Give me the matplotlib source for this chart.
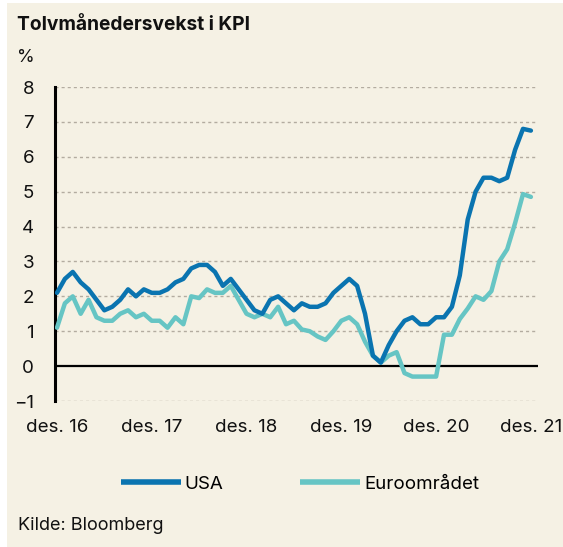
import matplotlib
matplotlib.use("Agg")
import matplotlib.pyplot as plt
from matplotlib.patches import Rectangle
import numpy as np

plt.rcParams["font.family"] = ["Inter", "DejaVu Sans"]

# monthly 12-month CPI growth, des. 2016 - des. 2021
usa = [2.1,
       2.5, 2.7, 2.4, 2.2, 1.9, 1.6, 1.7, 1.9, 2.2, 2.0, 2.2, 2.1,
       2.1, 2.2, 2.4, 2.5, 2.8, 2.9, 2.9, 2.7, 2.3, 2.5, 2.2, 1.9,
       1.6, 1.5, 1.9, 2.0, 1.8, 1.6, 1.8, 1.7, 1.7, 1.8, 2.1, 2.3,
       2.5, 2.3, 1.5, 0.3, 0.1, 0.6, 1.0, 1.3, 1.4, 1.2, 1.2, 1.4,
       1.4, 1.7, 2.6, 4.2, 5.0, 5.4, 5.4, 5.3, 5.4, 6.2, 6.8, 6.75]
euro = [1.1,
        1.8, 2.0, 1.5, 1.9, 1.4, 1.3, 1.3, 1.5, 1.6, 1.4, 1.5, 1.3,
        1.3, 1.1, 1.4, 1.2, 2.0, 1.95, 2.2, 2.1, 2.1, 2.3, 1.9, 1.5,
        1.4, 1.5, 1.4, 1.7, 1.2, 1.3, 1.05, 1.0, 0.85, 0.75, 1.0, 1.3,
        1.4, 1.2, 0.7, 0.3, 0.1, 0.3, 0.4, -0.2, -0.3, -0.3, -0.3, -0.3,
        0.9, 0.9, 1.35, 1.65, 2.0, 1.9, 2.15, 3.0, 3.35, 4.1, 4.93, 4.85]
months = np.arange(len(usa))
tick_pos = [0, 12, 24, 36, 48, 60]
tick_labels = ["des. 16", "des. 17", "des. 18", "des. 19", "des. 20", "des. 21"]
y_ticks = list(range(-1, 9))

CREAM = "#F5F1E4"
BLUE = "#0A74B0"
TEAL = "#66C5C4"
INK = "#111111"

fig = plt.figure(figsize=(5.63, 5.47), dpi=100, facecolor="white")
fig.patches.append(Rectangle((7 / 563, 0), 1, 1 - 3 / 547, transform=fig.transFigure,
                             facecolor=CREAM, edgecolor="none", zorder=-10))

ax = fig.add_axes([55 / 563, 1 - 401 / 547, 483 / 563, 314 / 547])
ax.patch.set_alpha(0)

for v in y_ticks:
    if v == 0:
        ax.axhline(0, color="black", lw=1.6, zorder=2)
    else:
        ax.axhline(v, color="#B3ACA0", lw=1.0, ls=(0, (2.2, 2.2)), zorder=1)

ax.plot(months, euro, color=TEAL, lw=3.2, solid_capstyle="round",
        solid_joinstyle="round", zorder=3, label="Euroområdet")
ax.plot(months, usa, color=BLUE, lw=3.2, solid_capstyle="round",
        solid_joinstyle="round", zorder=4, label="USA")

ax.set_xlim(-0.25, 60.9)
ax.set_ylim(-1, 8)
ax.set_yticks(y_ticks)
ax.set_xticks(tick_pos)
ax.set_xticklabels(tick_labels)
ax.tick_params(length=0, labelsize=13.5, colors=INK)
ax.tick_params(axis="y", pad=15)
ax.tick_params(axis="x", pad=13)
for s in ["top", "right", "bottom"]:
    ax.spines[s].set_visible(False)
ax.spines["left"].set_linewidth(2.2)
ax.spines["left"].set_color("black")

fig.text(17 / 563, 1 - 25 / 547, "Tolvmånedersvekst i KPI", fontsize=13.8,
         fontweight="bold", va="center", ha="left", color=INK)
fig.text(17 / 563, 1 - 57 / 547, "%", fontsize=13, va="center", ha="left",
         color=INK)
fig.text(18 / 563, 1 - 526 / 547, "Kilde: Bloomberg", fontsize=13,
         va="center", ha="left", color=INK)

h, l = ax.get_legend_handles_labels()
leg = fig.legend([h[1], h[0]], [l[1], l[0]], ncol=2, loc="center",
                 bbox_to_anchor=(300 / 563, 1 - 484 / 547), frameon=False,
                 fontsize=13.5, handlelength=3.2, handletextpad=0.2,
                 columnspacing=4.1)
for line in leg.get_lines():
    line.set_linewidth(4)
    line.set_solid_capstyle("butt")

fig.savefig("out.png", dpi=100, facecolor="white")
